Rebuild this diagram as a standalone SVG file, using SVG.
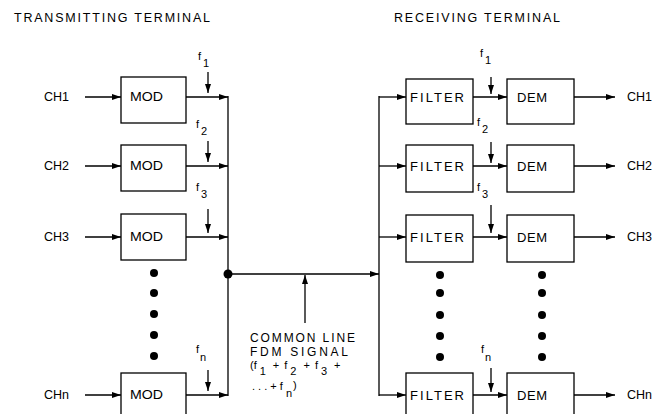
<svg xmlns="http://www.w3.org/2000/svg" width="665" height="414" viewBox="0 0 665 414">
<defs>
<marker id="ah" markerWidth="9" markerHeight="6" refX="9" refY="3" orient="auto" markerUnits="userSpaceOnUse">
<path d="M0,0 L9,3 L0,6 Z" fill="#000"/>
</marker>
</defs>
<style>
text{font-family:"Liberation Sans",Arial,sans-serif;fill:#000}
.t{font-size:12.5px}
.l{font-size:12.5px}
.b{font-size:13px}
.f{font-size:11px}
.c{font-size:12px}
.box{fill:#fff;stroke:#000;stroke-width:1.3}
.w{fill:none;stroke:#000;stroke-width:1.3}
.a{fill:none;stroke:#000;stroke-width:1.3;marker-end:url(#ah)}
.d{fill:#000}
</style>
<rect width="665" height="414" fill="#fff"/>
<text class="t" x="14" y="22" textLength="196" lengthAdjust="spacing">TRANSMITTING TERMINAL</text>
<text class="t" x="394" y="22" textLength="166" lengthAdjust="spacing">RECEIVING TERMINAL</text>

<g id="connectors">
<line class="a" x1="85" y1="97" x2="121" y2="97"/>
<line class="a" x1="85" y1="166" x2="121" y2="166"/>
<line class="a" x1="85" y1="237" x2="121" y2="237"/>
<line class="a" x1="85" y1="395" x2="121" y2="395"/>
<line class="a" x1="186" y1="97" x2="228" y2="97"/>
<line class="a" x1="186" y1="166" x2="228" y2="166"/>
<line class="a" x1="186" y1="237" x2="228" y2="237"/>
<line class="a" x1="186" y1="395" x2="228" y2="395"/>
<line class="a" x1="208" y1="72" x2="208" y2="93"/>
<line class="a" x1="208" y1="141" x2="208" y2="162"/>
<line class="a" x1="208" y1="209" x2="208" y2="233"/>
<line class="a" x1="208" y1="370" x2="208" y2="391"/>
<line class="w" x1="228" y1="96" x2="228" y2="396"/>
<circle class="d" cx="228" cy="274" r="4.5"/>
<line class="a" x1="228" y1="274" x2="379" y2="274"/>
<line class="a" x1="305" y1="323" x2="305" y2="275"/>
<line class="w" x1="379" y1="96" x2="379" y2="396"/>
<line class="a" x1="379" y1="97" x2="406" y2="97"/>
<line class="a" x1="379" y1="166" x2="406" y2="166"/>
<line class="a" x1="379" y1="237" x2="406" y2="237"/>
<line class="a" x1="379" y1="395" x2="406" y2="395"/>
<line class="a" x1="473" y1="97" x2="507" y2="97"/>
<line class="a" x1="473" y1="166" x2="507" y2="166"/>
<line class="a" x1="473" y1="237" x2="507" y2="237"/>
<line class="a" x1="473" y1="395" x2="507" y2="395"/>
<line class="a" x1="491" y1="77" x2="491" y2="94"/>
<line class="a" x1="491" y1="142" x2="491" y2="163"/>
<line class="a" x1="491" y1="205" x2="491" y2="233"/>
<line class="a" x1="491" y1="368" x2="491" y2="392"/>
<line class="a" x1="574" y1="97" x2="615" y2="97"/>
<line class="a" x1="574" y1="166" x2="615" y2="166"/>
<line class="a" x1="574" y1="237" x2="615" y2="237"/>
<line class="a" x1="574" y1="395" x2="615" y2="395"/>
</g>

<g id="labels-in">
<text class="l" x="44" y="101">CH1</text>
<text class="l" x="44" y="170">CH2</text>
<text class="l" x="44" y="241">CH3</text>
<text class="l" x="44" y="399">CHn</text>
</g>
<g id="labels-out">
<text class="l" x="627" y="101">CH1</text>
<text class="l" x="627" y="170">CH2</text>
<text class="l" x="627" y="241">CH3</text>
<text class="l" x="627" y="399">CHn</text>
</g>

<g id="mod1"><rect class="box" x="121" y="77" width="65" height="46"/><text class="b" x="130" y="101" textLength="33" lengthAdjust="spacingAndGlyphs">MOD</text></g>
<g id="mod2"><rect class="box" x="121" y="145" width="65" height="46"/><text class="b" x="130" y="170" textLength="33" lengthAdjust="spacingAndGlyphs">MOD</text></g>
<g id="mod3"><rect class="box" x="121" y="214" width="65" height="46"/><text class="b" x="130" y="241" textLength="33" lengthAdjust="spacingAndGlyphs">MOD</text></g>
<g id="modn"><rect class="box" x="121" y="373" width="65" height="46"/><text class="b" x="130" y="399" textLength="33" lengthAdjust="spacingAndGlyphs">MOD</text></g>

<g id="filter1"><rect class="box" x="406" y="79" width="67" height="45"/><text class="b" x="410" y="102" textLength="54" lengthAdjust="spacing">FILTER</text></g>
<g id="filter2"><rect class="box" x="406" y="145" width="67" height="47"/><text class="b" x="410" y="171" textLength="54" lengthAdjust="spacing">FILTER</text></g>
<g id="filter3"><rect class="box" x="406" y="215" width="67" height="47"/><text class="b" x="410" y="242" textLength="54" lengthAdjust="spacing">FILTER</text></g>
<g id="filtern"><rect class="box" x="406" y="373" width="67" height="46"/><text class="b" x="410" y="400" textLength="54" lengthAdjust="spacing">FILTER</text></g>

<g id="dem1"><rect class="box" x="507" y="79" width="67" height="45"/><text class="b" x="517" y="102" textLength="30" lengthAdjust="spacing">DEM</text></g>
<g id="dem2"><rect class="box" x="507" y="145" width="67" height="47"/><text class="b" x="517" y="171" textLength="30" lengthAdjust="spacing">DEM</text></g>
<g id="dem3"><rect class="box" x="507" y="215" width="67" height="47"/><text class="b" x="517" y="242" textLength="30" lengthAdjust="spacing">DEM</text></g>
<g id="demn"><rect class="box" x="507" y="373" width="67" height="46"/><text class="b" x="517" y="400" textLength="30" lengthAdjust="spacing">DEM</text></g>

<g id="carriers">
<text class="f" x="198" y="60">f<tspan dx="2" dy="7">1</tspan></text>
<text class="f" x="196" y="128">f<tspan dx="2" dy="7">2</tspan></text>
<text class="f" x="196" y="191">f<tspan dx="2" dy="7">3</tspan></text>
<text class="f" x="196" y="353">f<tspan dx="1" dy="8">n</tspan></text>
<text class="f" x="480" y="57">f<tspan dx="2" dy="7">1</tspan></text>
<text class="f" x="477" y="126">f<tspan dx="2" dy="7">2</tspan></text>
<text class="f" x="477" y="191">f<tspan dx="2" dy="7">3</tspan></text>
<text class="f" x="481" y="353">f<tspan dx="1" dy="8">n</tspan></text>
</g>

<g id="dots">
<circle class="d" cx="154" cy="273" r="4"/><circle class="d" cx="154" cy="293" r="4"/><circle class="d" cx="154" cy="314" r="4"/><circle class="d" cx="154" cy="335" r="4"/><circle class="d" cx="154" cy="356" r="4"/>
<circle class="d" cx="440" cy="275" r="4"/><circle class="d" cx="440" cy="293" r="4"/><circle class="d" cx="440" cy="315" r="4"/><circle class="d" cx="440" cy="336" r="4"/><circle class="d" cx="440" cy="357" r="4"/>
<circle class="d" cx="542" cy="275" r="4"/><circle class="d" cx="542" cy="293" r="4"/><circle class="d" cx="542" cy="315" r="4"/><circle class="d" cx="542" cy="336" r="4"/><circle class="d" cx="542" cy="357" r="4"/>
</g>

<g id="common-label">
<text class="c" x="250" y="342" textLength="105" lengthAdjust="spacing">COMMON LINE</text>
<text class="c" x="250" y="356" textLength="98" lengthAdjust="spacing">FDM SIGNAL</text>
<text class="f" x="250" y="369">(f<tspan dx="3" dy="6">1</tspan><tspan dx="7" dy="-6">+</tspan><tspan dx="5">f</tspan><tspan dx="3" dy="6">2</tspan><tspan dx="7" dy="-6">+</tspan><tspan dx="5">f</tspan><tspan dx="3" dy="6">3</tspan><tspan dx="7" dy="-6">+</tspan></text>
<text class="f" x="252" y="390">. . . + f<tspan dx="3" dy="7">n</tspan><tspan dx="1" dy="-8">)</tspan></text>
</g>
</svg>
